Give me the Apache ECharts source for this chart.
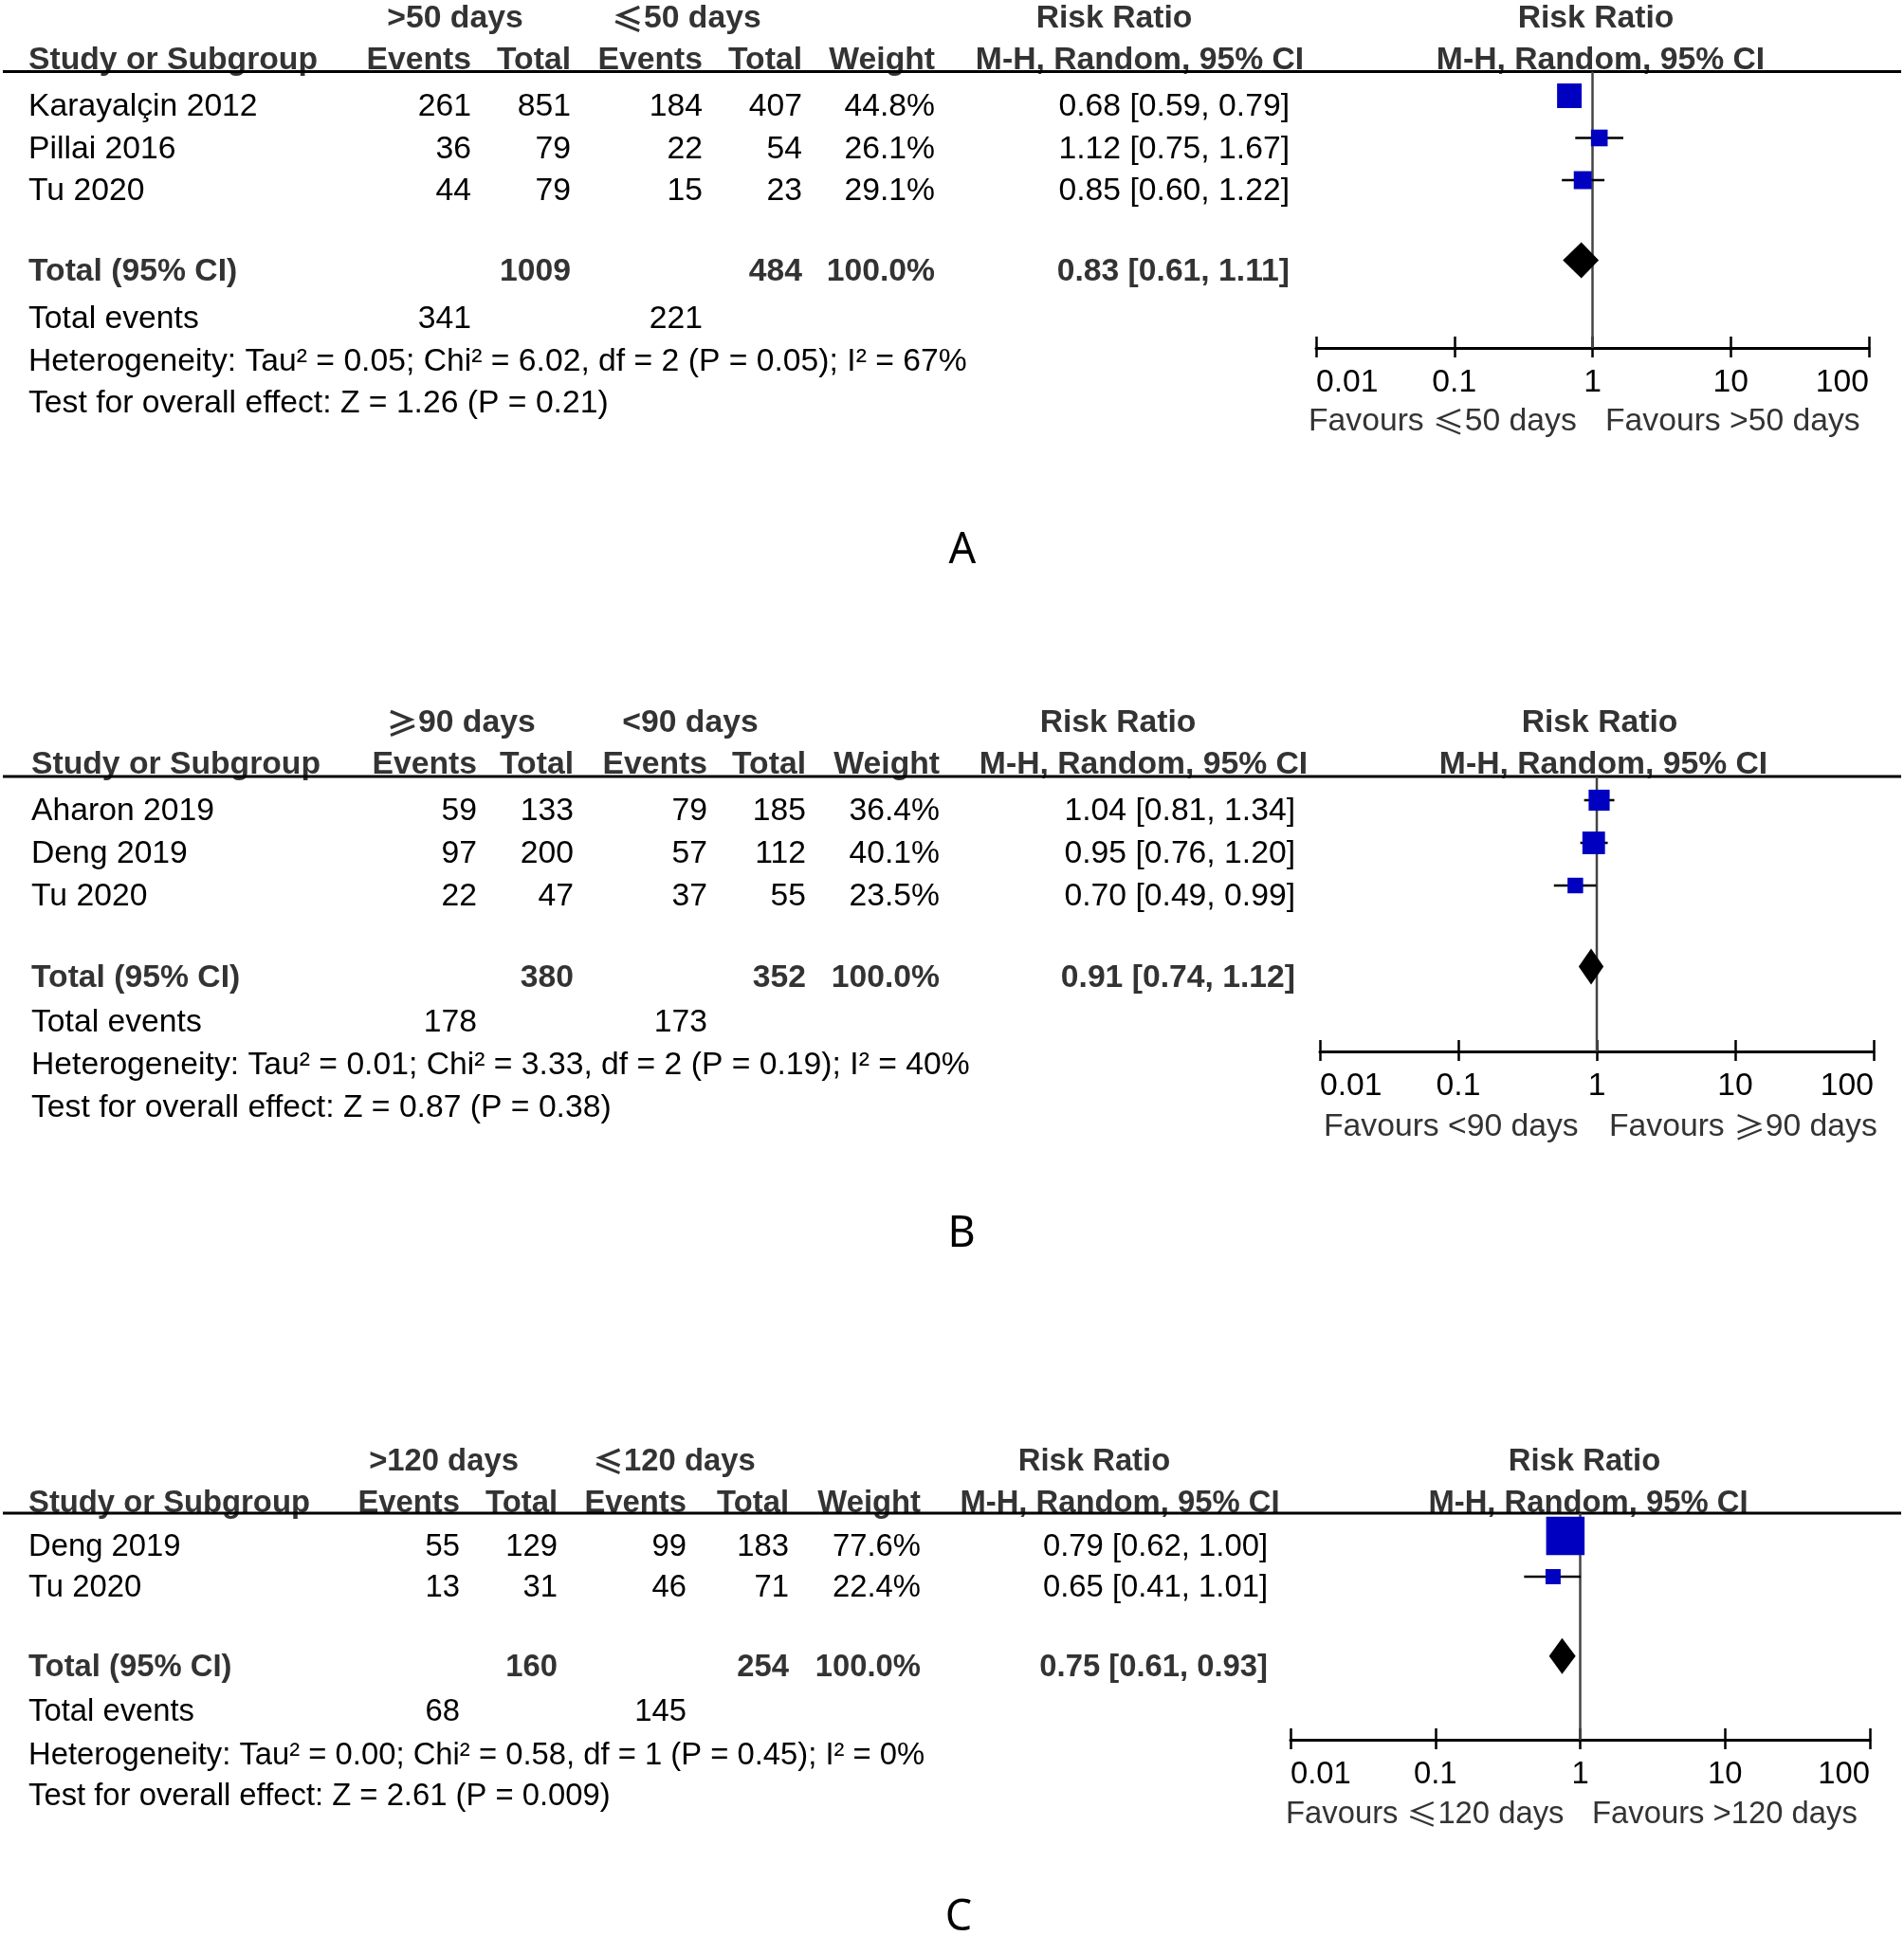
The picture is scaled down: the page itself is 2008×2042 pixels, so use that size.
<!DOCTYPE html>
<html><head><meta charset="utf-8">
<script src="https://cdn.jsdelivr.net/npm/echarts@6/dist/echarts.min.js"></script>
<style>html,body{margin:0;padding:0;background:#fff}#c{width:2008px;height:2042px}</style>
</head><body><div id="c"></div>
<script>
// ---------- Panel A ----------
const studiesA = ['Karayalçin 2012', 'Pillai 2016', 'Tu 2020'];
const expEventsA = [261, 36, 44];
const expTotalA = [851, 79, 79];
const ctlEventsA = [184, 22, 15];
const ctlTotalA = [407, 54, 23];
const weightA = [44.8, 26.1, 29.1];
const rrA = [0.68, 1.12, 0.85];
const lowA = [0.59, 0.75, 0.60];
const highA = [0.79, 1.67, 1.22];
const pooledA = [0.83, 0.61, 1.11];
const sumTotalsA = [1009, 484];
const sumEventsA = [341, 221];
const groupsA = ['>50 days', '≤50 days'];
const favoursA = ['Favours ≤50 days', 'Favours >50 days'];
const hetA = 'Heterogeneity: Tau² = 0.05; Chi² = 6.02, df = 2 (P = 0.05); I² = 67%';
const testA = 'Test for overall effect: Z = 1.26 (P = 0.21)';

// ---------- Panel B ----------
const studiesB = ['Aharon 2019', 'Deng 2019', 'Tu 2020'];
const expEventsB = [59, 97, 22];
const expTotalB = [133, 200, 47];
const ctlEventsB = [79, 57, 37];
const ctlTotalB = [185, 112, 55];
const weightB = [36.4, 40.1, 23.5];
const rrB = [1.04, 0.95, 0.70];
const lowB = [0.81, 0.76, 0.49];
const highB = [1.34, 1.20, 0.99];
const pooledB = [0.91, 0.74, 1.12];
const sumTotalsB = [380, 352];
const sumEventsB = [178, 173];
const groupsB = ['≥90 days', '<90 days'];
const favoursB = ['Favours <90 days', 'Favours ≥90 days'];
const hetB = 'Heterogeneity: Tau² = 0.01; Chi² = 3.33, df = 2 (P = 0.19); I² = 40%';
const testB = 'Test for overall effect: Z = 0.87 (P = 0.38)';

// ---------- Panel C ----------
const studiesC = ['Deng 2019', 'Tu 2020'];
const expEventsC = [55, 13];
const expTotalC = [129, 31];
const ctlEventsC = [99, 46];
const ctlTotalC = [183, 71];
const weightC = [77.6, 22.4];
const rrC = [0.79, 0.65];
const lowC = [0.62, 0.41];
const highC = [1.00, 1.01];
const pooledC = [0.75, 0.61, 0.93];
const sumTotalsC = [160, 254];
const sumEventsC = [68, 145];
const groupsC = ['>120 days', '≤120 days'];
const favoursC = ['Favours ≤120 days', 'Favours >120 days'];
const hetC = 'Heterogeneity: Tau² = 0.00; Chi² = 0.58, df = 1 (P = 0.45); I² = 0%';
const testC = 'Test for overall effect: Z = 2.61 (P = 0.009)';

const panelLabels = ['A', 'B', 'C'];
const tickLabels = ['0.01', '0.1', '1', '10', '100'];
const headerCols = ['Study or Subgroup', 'Events', 'Total', 'Events', 'Total', 'Weight', 'M-H, Random, 95% CI'];
const rrTitle = 'Risk Ratio';
const totalLabel = 'Total (95% CI)';
const totalEventsLabel = 'Total events';

// ---------- layout (pixels) ----------
const FONT = '"Liberation Sans", Arial, sans-serif';
const CJK = '"Noto Sans CJK SC", "Noto Sans CJK JP", sans-serif';
const TDY = 3;            // canvas "middle" sits a bit above cap centre
const MOFF = 9;           // markers sit slightly above text centre
const layouts = [
  { fs: 33.7, h1: 17, h2: 61, rule: 75.5, row0: 110, rowH: 44.5, gap: 1.9, te: 334, het: 379, test: 423, axis: 367, fav: 442, lab: 581,
    name: 30, e1: 497, t1: 602, e2: 741, t2: 846, w: 986, ci: 1360, g1: 480, g2: 724,
    rr1: 1175, mh1: 1202, rr2: 1683, mh2: 1688, gx0: 1388, gx1: 1971, favL: 1380, favR: 1693, labX: 1015 },
  { fs: 33.7, h1: 760, h2: 804, rule: 819, row0: 853, rowH: 45, gap: 1.9, te: 1076, het: 1121, test: 1166, axis: 1109, fav: 1186, lab: 1302,
    name: 33, e1: 503, t1: 605, e2: 746, t2: 850, w: 991, ci: 1366, g1: 486, g2: 728,
    rr1: 1179, mh1: 1206, rr2: 1687, mh2: 1691, gx0: 1392, gx1: 1976, favL: 1396, favR: 1697, labX: 1014 },
  { fs: 32.8, h1: 1539, h2: 1583, rule: 1596, row0: 1629, rowH: 43, gap: 1.95, te: 1803, het: 1849, test: 1892, axis: 1835, fav: 1911, lab: 2023,
    name: 30, e1: 485, t1: 588, e2: 724, t2: 832, w: 971, ci: 1337, g1: 468, g2: 711,
    rr1: 1154, mh1: 1181, rr2: 1671, mh2: 1675, gx0: 1361, gx1: 1972, favL: 1356, favR: 1679, labX: 1011 }
];

const panels = [
  { studies: studiesA, ee: expEventsA, et: expTotalA, ce: ctlEventsA, ct: ctlTotalA, w: weightA, rr: rrA, lo: lowA, hi: highA,
    pooled: pooledA, sumT: sumTotalsA, sumE: sumEventsA, groups: groupsA, fav: favoursA, het: hetA, test: testA },
  { studies: studiesB, ee: expEventsB, et: expTotalB, ce: ctlEventsB, ct: ctlTotalB, w: weightB, rr: rrB, lo: lowB, hi: highB,
    pooled: pooledB, sumT: sumTotalsB, sumE: sumEventsB, groups: groupsB, fav: favoursB, het: hetB, test: testB },
  { studies: studiesC, ee: expEventsC, et: expTotalC, ce: ctlEventsC, ct: ctlTotalC, w: weightC, rr: rrC, lo: lowC, hi: highC,
    pooled: pooledC, sumT: sumTotalsC, sumE: sumEventsC, groups: groupsC, fav: favoursC, het: hetC, test: testC }
];

const graphics = [];
let curFS = 33.7;
function txt(x, y, text, o) {
  o = o || {};
  const size = o.size || curFS;
  const weight = o.bold ? 'bold ' : '';
  let s = String(text);
  const style = {
    font: weight + size + 'px ' + (o.family || FONT),
    fill: o.color || '#000',
    align: o.align || 'left',
    verticalAlign: 'middle'
  };
  if (/[≤≥]/.test(s)) {
    s = s.replace(/([≤≥])/g, '{m|$1}');
    style.rich = { m: { font: weight + size + 'px ' + CJK, fill: o.color || '#000' } };
  }
  style.text = s;
  graphics.push({ type: 'text', x: x, y: y + (o.dy == null ? TDY : o.dy), silent: true, style: style });
}
const HEAD = '#333333';
const fmtCI = (r, l, h) => r.toFixed(2) + ' [' + l.toFixed(2) + ', ' + h.toFixed(2) + ']';

const grids = [], xAxes = [], yAxes = [], series = [];

panels.forEach((p, k) => {
  const L = layouts[k];
  curFS = L.fs;
  // header
  txt(L.g1, L.h1, p.groups[0], { bold: true, color: HEAD, align: 'center' });
  txt(L.g2, L.h1, p.groups[1], { bold: true, color: HEAD, align: 'center' });
  txt(L.rr1, L.h1, rrTitle, { bold: true, color: HEAD, align: 'center' });
  txt(L.rr2, L.h1, rrTitle, { bold: true, color: HEAD, align: 'center' });
  txt(L.name, L.h2, headerCols[0], { bold: true, color: HEAD });
  txt(L.e1, L.h2, headerCols[1], { bold: true, color: HEAD, align: 'right' });
  txt(L.t1, L.h2, headerCols[2], { bold: true, color: HEAD, align: 'right' });
  txt(L.e2, L.h2, headerCols[3], { bold: true, color: HEAD, align: 'right' });
  txt(L.t2, L.h2, headerCols[4], { bold: true, color: HEAD, align: 'right' });
  txt(L.w, L.h2, headerCols[5], { bold: true, color: HEAD, align: 'right' });
  txt(L.mh1, L.h2, headerCols[6], { bold: true, color: HEAD, align: 'center' });
  txt(L.mh2, L.h2, headerCols[6], { bold: true, color: HEAD, align: 'center' });
  graphics.push({ type: 'line', silent: true, shape: { x1: 3, y1: L.rule, x2: 2005, y2: L.rule },
    style: { stroke: '#000', lineWidth: 3 } });

  // study rows
  p.studies.forEach((s, i) => {
    const y = L.row0 + i * L.rowH;
    txt(L.name, y, s);
    txt(L.e1, y, p.ee[i], { align: 'right' });
    txt(L.t1, y, p.et[i], { align: 'right' });
    txt(L.e2, y, p.ce[i], { align: 'right' });
    txt(L.t2, y, p.ct[i], { align: 'right' });
    txt(L.w, y, p.w[i].toFixed(1) + '%', { align: 'right' });
    txt(L.ci, y, fmtCI(p.rr[i], p.lo[i], p.hi[i]), { align: 'right' });
  });
  const totIdx = p.studies.length - 1 + L.gap;
  const ty = L.row0 + totIdx * L.rowH;
  txt(L.name, ty, totalLabel, { bold: true, color: HEAD });
  txt(L.t1, ty, p.sumT[0], { bold: true, color: HEAD, align: 'right' });
  txt(L.t2, ty, p.sumT[1], { bold: true, color: HEAD, align: 'right' });
  txt(L.w, ty, '100.0%', { bold: true, color: HEAD, align: 'right' });
  txt(L.ci, ty, fmtCI(p.pooled[0], p.pooled[1], p.pooled[2]), { bold: true, color: HEAD, align: 'right' });
  txt(L.name, L.te, totalEventsLabel);
  txt(L.e1, L.te, p.sumE[0], { align: 'right' });
  txt(L.e2, L.te, p.sumE[1], { align: 'right' });
  txt(L.name, L.het, p.het);
  txt(L.name, L.test, p.test);
  txt(L.favL, L.fav, p.fav[0], { color: HEAD });
  txt(L.favR, L.fav, p.fav[1], { color: HEAD });
  txt(L.labX, L.lab, panelLabels[k], { size: 45, family: '"Noto Sans", "DejaVu Sans", sans-serif', align: 'center', dy: 0 });

  // forest plot grid
  grids.push({ left: L.gx0, width: L.gx1 - L.gx0, top: L.rule, height: L.axis - L.rule, containLabel: false });
  const baseX = { gridIndex: k, type: 'log', logBase: 10, min: 0.01, max: 100, position: 'bottom',
    splitLine: { show: false }, minorTick: { show: false }, minorSplitLine: { show: false } };
  xAxes.push(Object.assign({}, baseX, {
    axisLine: { show: true, onZero: false, lineStyle: { color: '#000', width: 3 } },
    axisTick: { show: true, inside: false, length: 10, lineStyle: { color: '#000', width: 2.5 } },
    axisLabel: { show: true, margin: 20, fontSize: L.fs, fontFamily: FONT, color: '#000',
      alignMinLabel: 'left', alignMaxLabel: 'right', showMinLabel: true, showMaxLabel: true,
      formatter: v => tickLabels[Math.round(Math.log10(v)) + 2] }
  }));
  xAxes.push(Object.assign({}, baseX, {
    axisLine: { show: false, onZero: false },
    axisTick: { show: true, inside: true, length: 12, lineStyle: { color: '#000', width: 2.5 } },
    axisLabel: { show: false }
  }));
  const m0 = L.row0 - MOFF;
  yAxes.push({ gridIndex: k, type: 'value', inverse: true, show: false,
    min: (L.rule - m0) / L.rowH, max: (L.axis - m0) / L.rowH,
    splitLine: { show: false }, axisLine: { show: false }, axisTick: { show: false }, axisLabel: { show: false } });

  // null line at RR = 1
  series.push({
    type: 'custom', xAxisIndex: 2 * k, yAxisIndex: k, z: 1, silent: true, clip: false,
    data: [[1, 0]],
    encode: { x: 0, y: 1 },
    renderItem: (params, api) => {
      const cs = params.coordSys;
      const x = api.coord([api.value(0), 0])[0];
      return { type: 'line', shape: { x1: x, y1: cs.y, x2: x, y2: cs.y + cs.height },
        style: { stroke: '#444', lineWidth: 2.5 } };
    }
  });
  // studies: CI whiskers + weighted squares
  series.push({
    type: 'custom', xAxisIndex: 2 * k, yAxisIndex: k, z: 3, silent: true, clip: false,
    data: p.studies.map((s, i) => [p.rr[i], i, p.lo[i], p.hi[i], p.w[i]]),
    encode: { x: 0, y: 1 },
    renderItem: (params, api) => {
      const c = api.coord([api.value(0), api.value(1)]);
      const l = api.coord([api.value(2), api.value(1)]);
      const h = api.coord([api.value(3), api.value(1)]);
      const s = 6 + 0.445 * api.value(4);
      return { type: 'group', children: [
        { type: 'line', shape: { x1: l[0], y1: c[1], x2: h[0], y2: c[1] }, style: { stroke: '#000', lineWidth: 2.5 } },
        { type: 'rect', shape: { x: c[0] - s / 2, y: c[1] - s / 2, width: s, height: s }, style: { fill: '#0000C0' } }
      ] };
    }
  });
  // pooled diamond
  series.push({
    type: 'custom', xAxisIndex: 2 * k, yAxisIndex: k, z: 3, silent: true, clip: false,
    data: [[p.pooled[0], totIdx, p.pooled[1], p.pooled[2]]],
    encode: { x: 0, y: 1 },
    renderItem: (params, api) => {
      const c = api.coord([api.value(0), api.value(1)]);
      const l = api.coord([api.value(2), api.value(1)]);
      const h = api.coord([api.value(3), api.value(1)]);
      const hh = 19;
      return { type: 'polygon', shape: { points: [[l[0], c[1]], [c[0], c[1] - hh], [h[0], c[1]], [c[0], c[1] + hh]] },
        style: { fill: '#000' } };
    }
  });
});

const chart = echarts.init(document.getElementById('c'), null, { renderer: 'canvas' });
chart.setOption({
  backgroundColor: '#fff',
  animation: false,
  grid: grids,
  xAxis: xAxes,
  yAxis: yAxes,
  series: series,
  graphic: graphics
});
</script>
</body></html>
